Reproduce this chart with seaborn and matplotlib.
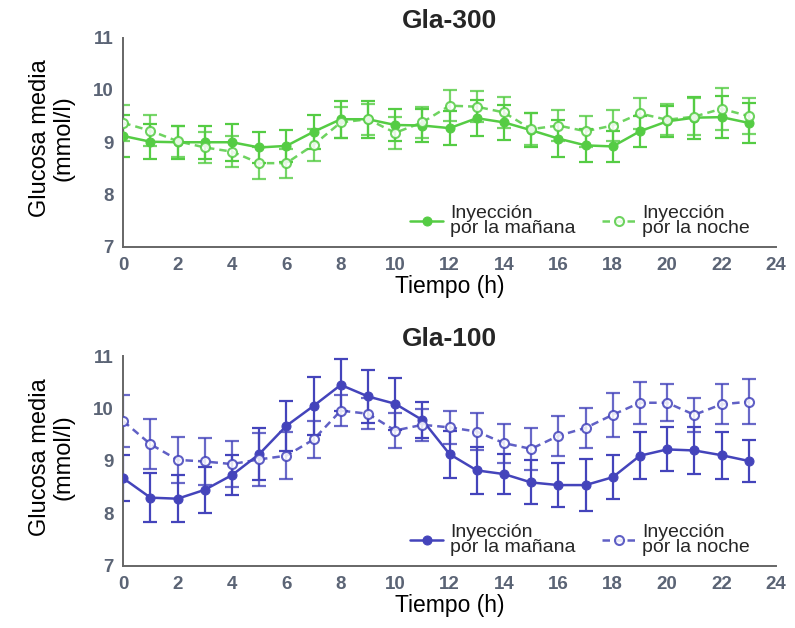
import matplotlib
matplotlib.use("Agg")
import matplotlib.pyplot as plt
import seaborn as sns
import pandas as pd
import numpy as np

hours = list(range(24))

g300_morning = [9.12, 9.01, 9.0, 9.0, 9.0, 8.9, 8.93, 9.2, 9.44, 9.44, 9.33, 9.32,
                9.27, 9.46, 9.38, 9.23, 9.07, 8.94, 8.92, 9.21, 9.40, 9.47, 9.48, 9.37]
g300_morning_err = [0.4, 0.33, 0.32, 0.32, 0.35, 0.3, 0.3, 0.32, 0.35, 0.35, 0.3, 0.32,
                    0.32, 0.35, 0.33, 0.33, 0.35, 0.32, 0.3, 0.3, 0.3, 0.4, 0.4, 0.38]
g300_evening = [9.37, 9.22, 9.02, 8.9, 8.82, 8.6, 8.6, 8.95, 9.38, 9.44, 9.18, 9.38,
                9.70, 9.68, 9.57, 9.25, 9.32, 9.21, 9.32, 9.55, 9.43, 9.49, 9.64, 9.5]
g300_evening_err = [0.35, 0.3, 0.3, 0.3, 0.3, 0.3, 0.28, 0.3, 0.3, 0.3, 0.3, 0.3,
                    0.3, 0.3, 0.3, 0.3, 0.3, 0.3, 0.3, 0.3, 0.3, 0.35, 0.4, 0.35]

g100_morning = [8.67, 8.30, 8.28, 8.45, 8.73, 9.13, 9.67, 10.05, 10.45, 10.23, 10.09, 9.78,
                9.13, 8.82, 8.75, 8.59, 8.54, 8.54, 8.69, 9.10, 9.22, 9.20, 9.11, 9.0]
g100_morning_err = [0.44, 0.47, 0.45, 0.44, 0.38, 0.5, 0.48, 0.55, 0.5, 0.5, 0.5, 0.35,
                    0.45, 0.45, 0.38, 0.42, 0.42, 0.5, 0.42, 0.45, 0.42, 0.45, 0.45, 0.4]
g100_evening = [9.76, 9.32, 9.02, 8.99, 8.94, 9.03, 9.10, 9.41, 9.96, 9.90, 9.58, 9.69,
                9.64, 9.56, 9.34, 9.23, 9.48, 9.63, 9.88, 10.11, 10.11, 9.88, 10.08, 10.13]
g100_evening_err = [0.5, 0.48, 0.44, 0.44, 0.44, 0.5, 0.45, 0.36, 0.3, 0.3, 0.34, 0.3,
                    0.32, 0.36, 0.37, 0.4, 0.38, 0.38, 0.42, 0.4, 0.35, 0.32, 0.38, 0.43]

titles = ["Gla-300", "Gla-100"]
colors = ["#55cc44", "#4444bb"]
labels = ["Inyección\npor la mañana", "Inyección\npor la noche"]
y_ticks = [7, 8, 9, 10, 11]
x_ticks = list(range(0, 25, 2))

sns.set_style("white")
plt.rcParams['font.family'] = ['Liberation Sans', 'DejaVu Sans']

fig = plt.figure(figsize=(7.95, 6.28), dpi=100)
ax_top = fig.add_axes([0.155, 0.607, 0.821, 0.333])
ax_bot = fig.add_axes([0.155, 0.099, 0.821, 0.334])

panels = [
    (ax_top, g300_morning, g300_morning_err, g300_evening, g300_evening_err),
    (ax_bot, g100_morning, g100_morning_err, g100_evening, g100_evening_err),
]

tick_color = "#5b6475"
for i, (ax, m, me, e, ee) in enumerate(panels):
    c = colors[i]
    df = pd.DataFrame({
        "h": hours * 2,
        "v": m + e,
        "grupo": [labels[0]] * 24 + [labels[1]] * 24,
    })
    ax.errorbar(hours, m, yerr=me, fmt="none", ecolor=c, elinewidth=1.6,
                capsize=5, capthick=1.6, zorder=2)
    ax.errorbar(hours, e, yerr=ee, fmt="none", ecolor=c, elinewidth=1.6,
                capsize=5, capthick=1.6, alpha=0.8, zorder=2)
    sns.lineplot(data=df[df.grupo == labels[0]], x="h", y="v", ax=ax, color=c,
                 lw=1.8, marker="o", markersize=6.5, markerfacecolor=c,
                 markeredgecolor=c, label=labels[0], zorder=3)
    sns.lineplot(data=df[df.grupo == labels[1]], x="h", y="v", ax=ax, color=c,
                 lw=1.8, linestyle=(0, (3, 2)), marker="o", markersize=6.5,
                 markerfacecolor="white", markeredgecolor=c, markeredgewidth=1.5,
                 label=labels[1], zorder=3, alpha=0.85)
    ax.set_xlim(0, 24)
    ax.set_ylim(7, 11)
    ax.set_xticks(x_ticks)
    ax.set_yticks(y_ticks)
    ax.tick_params(axis="both", direction="out", length=5, width=1.2,
                   color="#666666", labelsize=13.5, labelcolor=tick_color, pad=2)
    for lab in ax.get_xticklabels() + ax.get_yticklabels():
        lab.set_fontweight("bold")
    for s in ["top", "right"]:
        ax.spines[s].set_visible(False)
    for s in ["left", "bottom"]:
        ax.spines[s].set_color("#666666")
        ax.spines[s].set_linewidth(1.4)
    ax.set_xlabel("Tiempo (h)", fontsize=16.5, color="black", labelpad=1)
    ax.set_ylabel("Glucosa media\n(mmol/l)", fontsize=17, color="black",
                  labelpad=14, linespacing=1.05)
    ax.yaxis.set_label_coords(-0.075, 0.52)
    ax.set_title(titles[i], fontsize=19, fontweight="bold", pad=7)
    ax.patch.set_alpha(0)
    leg = ax.legend(loc="lower right", ncol=2, frameon=False, fontsize=14,
                    handlelength=1.7, columnspacing=1.35, borderaxespad=0.3,
                    bbox_to_anchor=(0.975, 0.0), handletextpad=0.36,
                    borderpad=0.2)
    for t in leg.get_texts():
        t.set_linespacing(0.85)

fig.savefig("out.png", dpi=100)
